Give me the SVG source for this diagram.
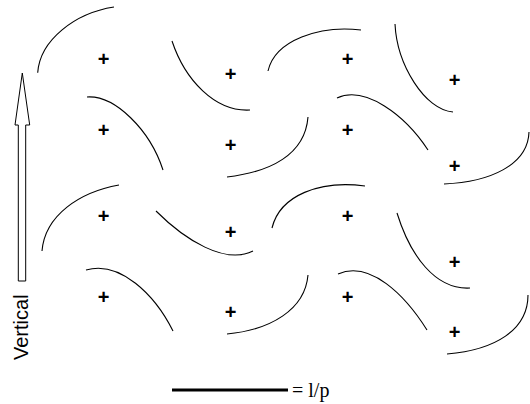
<svg xmlns="http://www.w3.org/2000/svg" width="530" height="404" viewBox="0 0 530 404">
<style>
.c{fill:none;stroke:#000;stroke-width:1.1}
.p{font-family:"Liberation Sans",Arial,sans-serif;font-weight:bold;font-size:20px;text-anchor:middle}
.lbl{font-family:"Liberation Sans",Arial,sans-serif;font-size:20px}
.s{font-family:"Liberation Serif","Times New Roman",serif;font-size:20px}
</style>
<rect width="530" height="404" fill="#fff"/>
<g id="curves">
<path class="c" d="M37.7,72.7 C40,40 75,13 114,7"/>
<path class="c" d="M172,41 C185,80 215,112 250,110"/>
<path class="c" d="M268,71 C275,40 320,25 361,30"/>
<path class="c" d="M395,24 C397,65 425,110 453,112"/>
<path class="c" d="M87,97 C115,95 150,130 163,170"/>
<path class="c" d="M227,177 C270,172 305,155 308,117"/>
<path class="c" d="M337,98 C365,85 405,115 428,150"/>
<path class="c" d="M444,184 C490,182 528,165 529,132"/>
<path class="c" d="M42,251 C45,215 80,192 119,185"/>
<path class="c" d="M156,211 C185,240 225,265 253,251"/>
<path class="c" d="M272,228 C280,195 320,180 365,186"/>
<path class="c" d="M397,213 C410,255 435,290 470,288"/>
<path class="c" d="M86,270 C120,260 155,295 173,331"/>
<path class="c" d="M227,334 C270,330 305,310 308,275"/>
<path class="c" d="M338,274 C370,260 405,295 427,330"/>
<path class="c" d="M447,354 C495,350 528,330 528,295"/>
</g>
<g id="centres">
<text class="p" x="103.5" y="66">+</text>
<text class="p" x="230.5" y="81">+</text>
<text class="p" x="347.5" y="66">+</text>
<text class="p" x="454.5" y="87">+</text>
<text class="p" x="103.5" y="137">+</text>
<text class="p" x="230.5" y="152">+</text>
<text class="p" x="347.5" y="137">+</text>
<text class="p" x="454.5" y="173">+</text>
<text class="p" x="103.5" y="223">+</text>
<text class="p" x="230.5" y="239">+</text>
<text class="p" x="347.5" y="223">+</text>
<text class="p" x="454.5" y="269">+</text>
<text class="p" x="103.5" y="304">+</text>
<text class="p" x="230.5" y="319">+</text>
<text class="p" x="347.5" y="304">+</text>
<text class="p" x="454.5" y="339">+</text>
</g>
<g id="vertical-arrow">
<path d="M22.3,73 L29.7,125 L25.7,125 L25.7,281 L18.3,281 L18.3,125 L15,125 Z" fill="#fff" stroke="#000" stroke-width="1"/>
<text class="lbl" transform="translate(27.5,360) rotate(-90)">Vertical</text>
</g>
<g id="scale">
<line x1="172" y1="390" x2="288" y2="390" stroke="#000" stroke-width="3"/>
<text class="s" x="292" y="397">= l/p</text>
</g>
</svg>
